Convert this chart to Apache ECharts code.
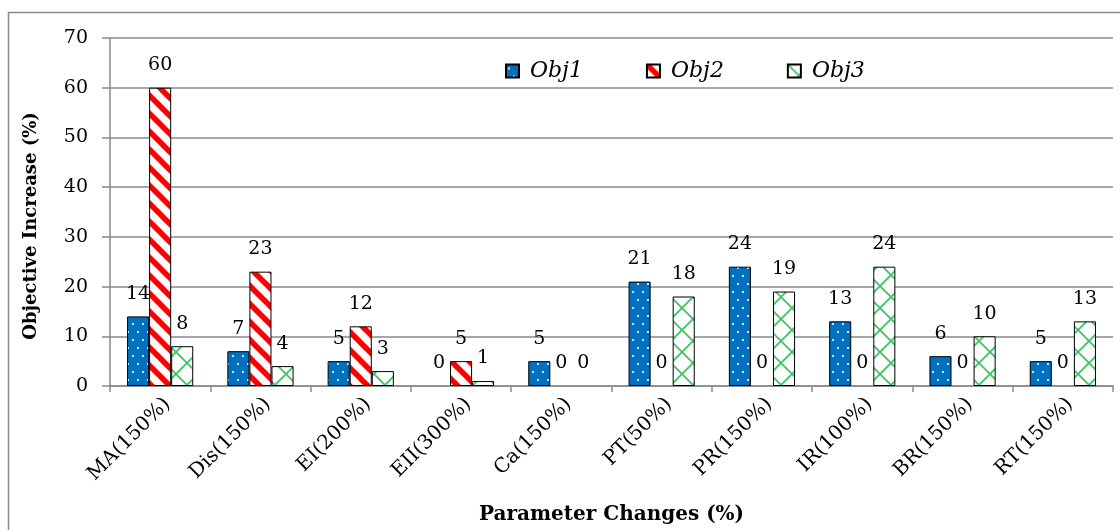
<!DOCTYPE html>
<html>
<head>
<meta charset="utf-8">
<script src="https://cdn.jsdelivr.net/npm/echarts@6/dist/echarts.min.js"></script>
<style>
  html, body { margin: 0; padding: 0; background: #fff; }
  #chart { width: 1120px; height: 530px; }
</style>
</head>
<body>
<div id="chart"></div>
<script>
// Parameter scenarios and the resulting objective increases (%)
const categories = ['MA(150%)', 'Dis(150%)', 'EI(200%)', 'EII(300%)', 'Ca(150%)',
                    'PT(50%)', 'PR(150%)', 'IR(100%)', 'BR(150%)', 'RT(150%)'];
const seriesNames = ['Obj1', 'Obj2', 'Obj3'];
const obj1 = [14, 7, 5, 0, 5, 21, 24, 13, 6, 5];
const obj2 = [60, 23, 12, 5, 0, 0, 0, 0, 0, 0];
const obj3 = [8, 4, 3, 1, 0, 18, 19, 24, 10, 13];
const yTicks = [0, 10, 20, 30, 40, 50, 60, 70];

const FONT = 'DejaVu Serif';

// Fill patterns for the three series
function makeTile(w, h, draw) {
  const c = document.createElement('canvas');
  c.width = w; c.height = h;
  draw(c.getContext('2d'), w, h);
  return c;
}
const dotTile = makeTile(10, 16, (g, w, h) => {
  g.fillStyle = '#0070C0'; g.fillRect(0, 0, w, h);
  g.fillStyle = '#cfe6fb';
  g.fillRect(2, 3, 2, 2);
  g.fillRect(7, 11, 2, 2);
});
const stripeTile = makeTile(18, 18, (g, w, h) => {
  g.fillStyle = '#ffffff'; g.fillRect(0, 0, w, h);
  g.strokeStyle = '#FF0000'; g.lineWidth = 5.5;
  for (let k = -1; k <= 1; k++) {
    g.beginPath();
    g.moveTo(k * w - 2, -2);
    g.lineTo(k * w + w + 2, h + 2);
    g.stroke();
  }
});
const crossTile = makeTile(22, 22, (g, w, h) => {
  g.fillStyle = '#ffffff'; g.fillRect(0, 0, w, h);
  g.strokeStyle = '#3fc463'; g.lineWidth = 1.8;
  g.beginPath();
  g.moveTo(0, 0); g.lineTo(w, h);
  g.moveTo(w, 0); g.lineTo(0, h);
  g.stroke();
});
const fills = [dotTile, stripeTile, crossTile].map(t => ({ image: t, repeat: 'repeat' }));

const chart = echarts.init(document.getElementById('chart'), null, { renderer: 'canvas' });

const labelStyle = {
  show: true, position: 'top', distance: 13,
  fontFamily: FONT, fontSize: 19, color: '#000'
};

// Zero-height bars carry only their value label, no outline
function barData(values) {
  return values.map(v => v === 0 ? { value: v, itemStyle: { borderWidth: 0 } } : v);
}

function bar(name, data, i) {
  return {
    name: name, type: 'bar', data: barData(data),
    barGap: '0%', barCategoryGap: '34%',
    itemStyle: { color: fills[i], borderColor: '#000', borderWidth: 1 },
    label: labelStyle
  };
}

chart.setOption({
  animation: false,
  backgroundColor: '#fff',
  textStyle: { fontFamily: FONT },
  graphic: [{
    type: 'rect', silent: true, z: -1,
    shape: { x: 8.5, y: 12.5, width: 1130, height: 540 },
    style: { fill: 'none', stroke: '#8a8a8a', lineWidth: 1.5 }
  }],
  legend: {
    top: 55, left: 500,
    icon: 'rect',
    itemWidth: 13, itemHeight: 13, itemGap: 63,
    textStyle: { fontFamily: FONT, fontStyle: 'italic', fontSize: 22, color: '#000', padding: [0, 0, 0, 6] },
    data: seriesNames
  },
  grid: { left: 110, right: 7, top: 38, bottom: 144 },
  xAxis: {
    type: 'category', data: categories,
    axisLine: { lineStyle: { color: '#8a8a8a', width: 1.5 } },
    axisTick: { show: true, interval: 0, length: 6, lineStyle: { color: '#8a8a8a', width: 1.5 } },
    axisLabel: { interval: 0, rotate: 45, margin: 8, verticalAlign: 'top',
                 fontFamily: FONT, fontSize: 20, color: '#000' },
    name: 'Parameter Changes (%)', nameLocation: 'middle', nameGap: 119,
    nameTextStyle: { fontFamily: FONT, fontWeight: 'bold', fontSize: 20, color: '#000' }
  },
  yAxis: {
    type: 'value', min: yTicks[0], max: yTicks[yTicks.length - 1], interval: 10,
    axisLine: { show: true, lineStyle: { color: '#8a8a8a', width: 1.5 } },
    axisTick: { show: true, length: 8, lineStyle: { color: '#8a8a8a', width: 1.5 } },
    axisLabel: { margin: 22, fontFamily: FONT, fontSize: 19, color: '#000' },
    splitLine: { lineStyle: { color: '#8a8a8a', width: 1.5 } },
    name: 'Objective Increase (%)', nameLocation: 'middle', nameGap: 70, nameRotate: 90,
    nameTextStyle: { fontFamily: FONT, fontWeight: 'bold', fontSize: 18, color: '#000',
                     padding: [0, 28, 0, 0] }
  },
  series: [bar(seriesNames[0], obj1, 0), bar(seriesNames[1], obj2, 1), bar(seriesNames[2], obj3, 2)]
});
</script>
</body>
</html>
